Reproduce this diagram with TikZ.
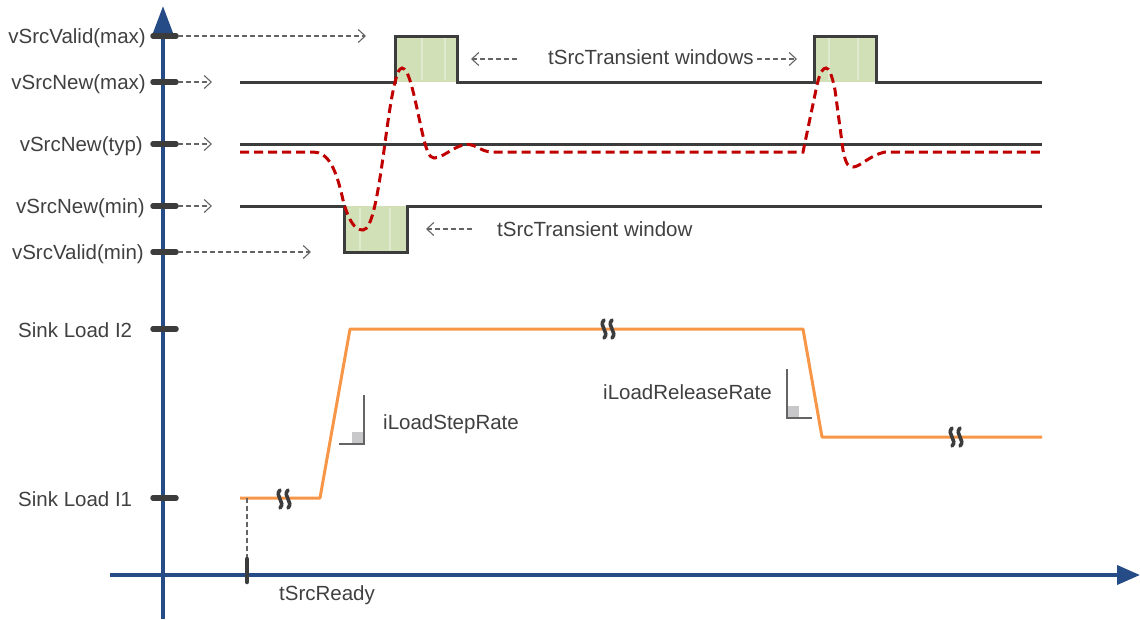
\documentclass[tikz,border=0pt]{standalone}
\usepackage{fontspec}
\setmainfont{Liberation Sans}
\usetikzlibrary{arrows.meta}
\definecolor{axisblue}{RGB}{37,76,135}
\definecolor{txt}{RGB}{64,64,64}
\definecolor{sig}{RGB}{60,60,60}
\definecolor{wingreen}{RGB}{210,224,184}
\definecolor{redwave}{RGB}{192,0,0}
\definecolor{load}{RGB}{247,150,70}
\definecolor{guide}{RGB}{100,100,100}
\definecolor{rateicon}{RGB}{200,200,202}
\begin{document}
\begin{tikzpicture}[x=1pt,y=-1pt,
  lbl/.style={font=\fontsize{20.5}{24}\selectfont, text=txt, inner sep=0pt},
  tickmark/.style={line width=5.5pt, draw=sig, line cap=round},
  axisline/.style={draw=axisblue, line width=3.8pt},
  guidearrow/.style={draw=guide, line width=1.1pt, dash pattern=on 5pt off 3pt, -{Straight Barb[length=7pt,width=13pt,line width=1.1pt]}},
  sigline/.style={draw=sig, line width=3pt, line join=miter},
  wavecurve/.style={draw=redwave, line width=3pt, dash pattern=on 9pt off 5pt},
  loadline/.style={draw=load, line width=3pt, line join=round},
  stripe/.style={draw=white, opacity=0.35, line width=2pt},
  iconline/.style={draw=guide, line width=1.2pt},
  brk/.pic={\draw[sig, line width=3.6pt, line cap=round] (-4,-9) .. controls (-10,-3) and (2,3) .. (-4,9);
            \draw[sig, line width=3.6pt, line cap=round] (4,-9) .. controls (-2,-3) and (10,3) .. (4,9);}
]
\useasboundingbox (0,0) rectangle (1140,619);

% green windows
\fill[wingreen] (395,36) rectangle (457,82);
\fill[wingreen] (814,36) rectangle (876,82);
\fill[wingreen] (344,206) rectangle (407,252);
\draw[stripe] (422,38) -- (422,80); \draw[stripe] (445,38) -- (445,80);
\draw[stripe] (829,38) -- (829,80); \draw[stripe] (858,38) -- (858,80);
\draw[stripe] (360,208) -- (360,250); \draw[stripe] (390,208) -- (390,250);

% axes
\coordinate (ybot) at (163,619);
\coordinate (ytop) at (163,6);
\coordinate (xl) at (110,575);
\coordinate (xr) at (1140,575);
\draw[axisline, -{Triangle[length=27pt,width=19pt]}] (ybot) -- (ytop);
\draw[axisline, -{Triangle[length=23pt,width=19pt]}] (xl) -- (xr);

% ticks and labels
\foreach \nm/\yy in {vmaxv/36, vmaxn/82, vtyp/144, vminn/206, vminv/252, ltwo/329, lone/498} {
  \draw[tickmark] (153,\yy) -- (176,\yy);
  \coordinate (t\nm) at (178,\yy);
}
\node[lbl, anchor=base east] (Lvmaxv) at (146,43.5) {vSrcValid(max)};
\node[lbl, anchor=base east] (Lvmaxn) at (146,89.5) {vSrcNew(max)};
\node[lbl, anchor=base east] (Lvtyp) at (143,151.5) {vSrcNew(typ)};
\node[lbl, anchor=base east] (Lvminn) at (145,213.5) {vSrcNew(min)};
\node[lbl, anchor=base east] (Lvminv) at (144,259.5) {vSrcValid(min)};
\node[lbl, anchor=base west] (Lltwo) at (18,337) {Sink Load I2};
\node[lbl, anchor=base west] (Llone) at (18,506) {Sink Load I1};

% guide arrows from ticks
\coordinate (avmaxv) at (366,36);
\coordinate (avmaxn) at (212,82);
\coordinate (avtyp) at (212,144);
\coordinate (avminn) at (212,206);
\coordinate (avminv) at (311,252);
\draw[guidearrow] (tvmaxv) -- (avmaxv);
\draw[guidearrow] (tvmaxn) -- (avmaxn);
\draw[guidearrow] (tvtyp) -- (avtyp);
\draw[guidearrow] (tvminn) -- (avminn);
\draw[guidearrow] (tvminv) -- (avminv);

% voltage limit lines
\draw[sigline] (240,82) -- (395,82) -- (395,36) -- (457,36) -- (457,82) -- (814,82) -- (814,36) -- (876,36) -- (876,82) -- (1042,82);
\draw[sigline] (240,144) -- (1042,144);
\draw[sigline] (240,206) -- (344,206) -- (344,252) -- (407,252) -- (407,206) -- (1042,206);

% transient waveform
\draw[wavecurve] (240,152) -- (313,152)
  .. controls (328,152) and (336,168) .. (343,200)
  .. controls (349,222) and (355,230) .. (363,230)
  .. controls (372,230) and (378,195) .. (385,143)
  .. controls (391,98) and (396,68) .. (402,68)
  .. controls (409,68) and (414,95) .. (421,127)
  .. controls (426,150) and (429,158) .. (434,158)
  .. controls (442,158) and (452,148) .. (463,145)
  .. controls (475,142) and (480,152) .. (492,152)
  -- (803,152) -- (817,85)
  .. controls (820,72) and (823,68) .. (826,68)
  .. controls (829,68) and (832,75) .. (835,90)
  -- (843,150)
  .. controls (846,166) and (849,167) .. (853,167)
  .. controls (860,167) and (870,155) .. (885,152)
  -- (1042,152);

% window labels
\node[lbl, anchor=base west] (tw) at (548,64) {tSrcTransient windows};
\coordinate (twls) at (517,59);
\coordinate (twl) at (471,59);
\coordinate (twrs) at (757,59);
\coordinate (twr) at (797,59);
\draw[guidearrow] (twls) -- (twl);
\draw[guidearrow] (twrs) -- (twr);
\node[lbl, anchor=base west] (tw1) at (497,236) {tSrcTransient window};
\coordinate (tw1s) at (472,229);
\coordinate (tw1l) at (426,229);
\draw[guidearrow] (tw1s) -- (tw1l);

% load current
\draw[loadline] (240,498) -- (320,498) -- (350,329) -- (803,329) -- (822,437) -- (1042,437);
\pic at (284,499) {brk};
\pic at (608,329) {brk};
\pic at (956,437) {brk};

% rate icons
\fill[rateicon] (352,432) rectangle (364,444);
\draw[iconline] (364,395) -- (364,444) -- (339,444);
\node[lbl, anchor=base west] (step) at (383,429) {iLoadStepRate};
\fill[rateicon] (787,406) rectangle (799,418);
\draw[iconline] (787,369) -- (787,418) -- (812,418);
\node[lbl, anchor=base west] (rel) at (603,399) {iLoadReleaseRate};

% tSrcReady
\coordinate (rdtop) at (247,498);
\coordinate (rdtick) at (247,559);
\coordinate (rdbot) at (247,582);
\draw[guide, line width=1.1pt, dash pattern=on 5pt off 3pt] (rdtop) -- (rdtick);
\draw[tickmark, line width=4.5pt] (rdtick) -- (rdbot);
\node[lbl, anchor=base west] (ready) at (279,600) {tSrcReady};
\end{tikzpicture}
\end{document}
